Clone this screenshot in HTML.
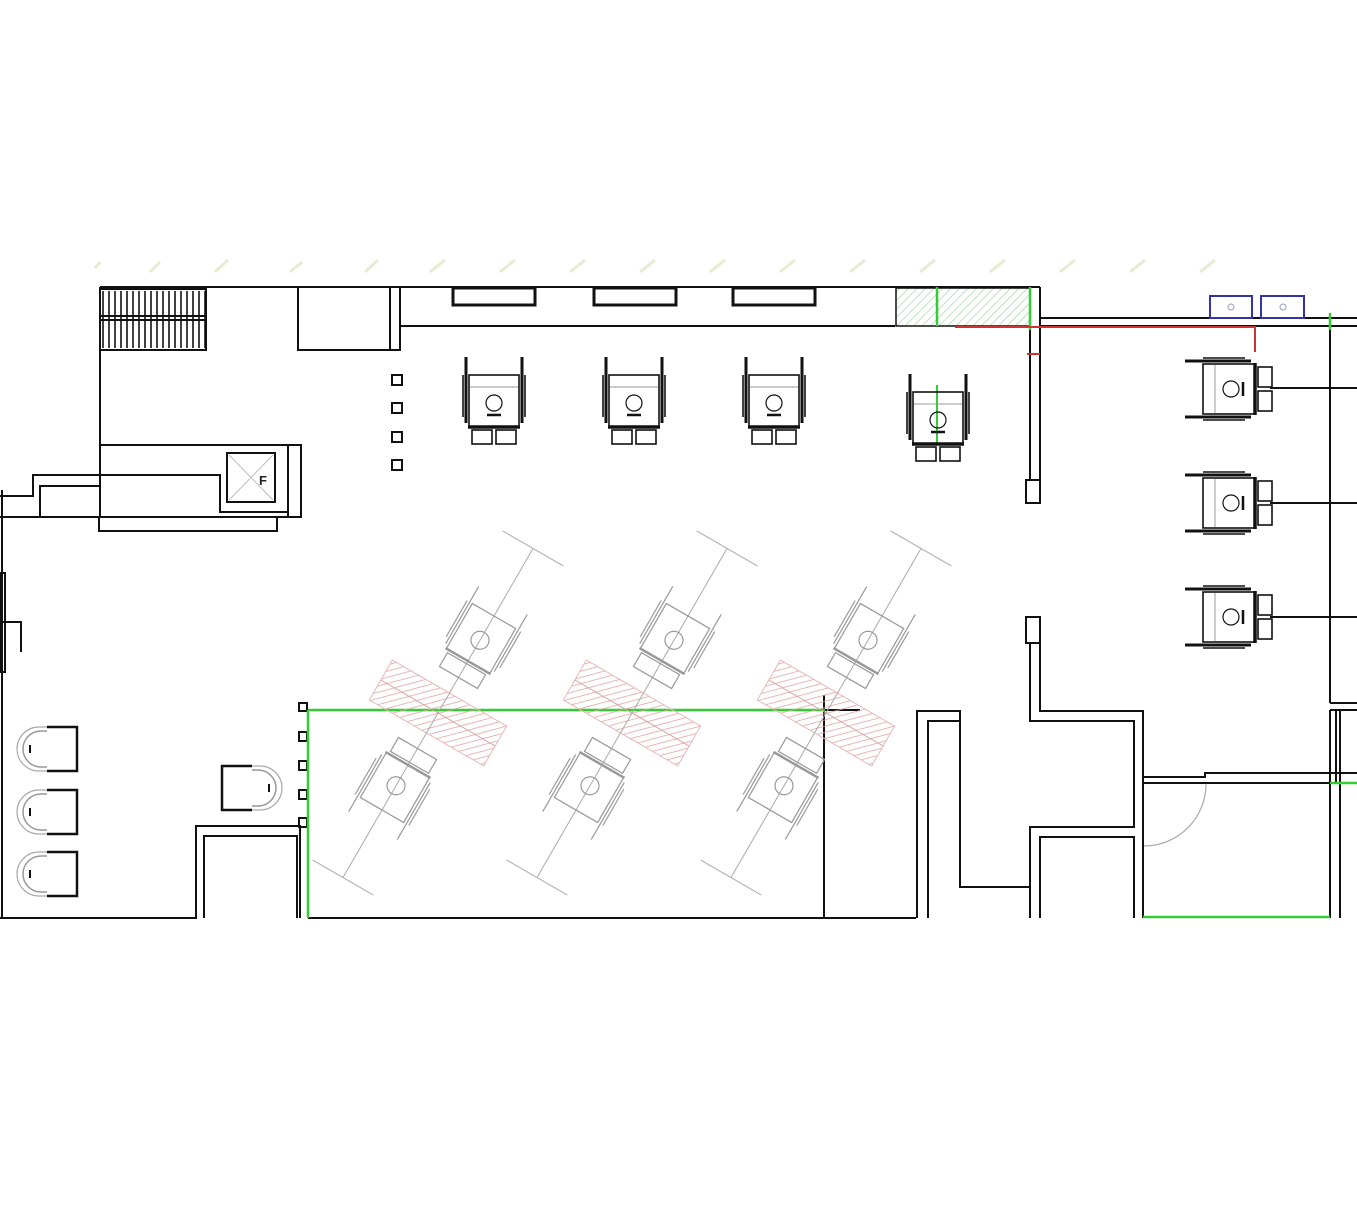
<!DOCTYPE html>
<html><head><meta charset="utf-8"><style>html,body{margin:0;padding:0;background:#fff}svg{display:block}</style></head>
<body>
<svg width="1357" height="1206" viewBox="0 0 1357 1206" xmlns="http://www.w3.org/2000/svg">
<defs>
<symbol id="ch" overflow="visible">
 <g fill="none" stroke="#111" stroke-width="1.6">
  <rect x="-25" y="-22" width="50" height="52"/>
  <line x1="-28" y1="-40" x2="-28" y2="26" stroke-width="3"/>
  <line x1="28" y1="-40" x2="28" y2="26" stroke-width="3"/>
  <line x1="-31" y1="-22" x2="-31" y2="20"/>
  <line x1="31" y1="-22" x2="31" y2="20"/>
  <line x1="-24" y1="-10" x2="24" y2="-10" stroke="#999" stroke-width="1"/>
  <rect x="-8" y="-2" width="16" height="16" rx="8" stroke-width="1.2"/>
  <line x1="-7" y1="18" x2="7" y2="18" stroke-width="2.5"/>
  <line x1="-26" y1="30" x2="26" y2="30" stroke-width="3.5"/>
  <rect x="-22" y="33" width="20" height="14"/>
  <rect x="2" y="33" width="20" height="14"/>
 </g>
</symbol>
<symbol id="chg" overflow="visible">
 <g fill="none" stroke="#999" stroke-width="1.2">
  <rect x="-25" y="-22" width="50" height="52"/>
  <line x1="-28" y1="-40" x2="-28" y2="26"/>
  <line x1="28" y1="-40" x2="28" y2="26"/>
  <line x1="-31" y1="-22" x2="-31" y2="20"/>
  <line x1="31" y1="-22" x2="31" y2="20"/>
  <circle cx="0" cy="6" r="9"/>
  <line x1="-26" y1="30" x2="26" y2="30" stroke-width="2.5"/>
  <rect x="-22" y="33" width="44" height="16"/>
 </g>
</symbol>
<symbol id="sc" overflow="visible">
 <g fill="none" stroke-width="2">
  <path d="M20 0 H50 V44 H20" stroke="#111" stroke-width="2.5"/>
  <path d="M20 4 H14 A18 18 0 0 0 14 40 H20" stroke="#999" stroke-width="1.5"/>
  <path d="M20 0 H12 A22 22 0 0 0 12 44 H20" stroke="#aaa" stroke-width="1.2"/>
  <line x1="3" y1="18" x2="3" y2="26" stroke="#111"/>
 </g>
</symbol>
<pattern id="hr" width="6" height="6" patternUnits="userSpaceOnUse" patternTransform="rotate(45)"><line x1="0" y1="0" x2="0" y2="6" stroke="#e0a0a0" stroke-width="1.5"/></pattern>
<pattern id="hg" width="6" height="6" patternUnits="userSpaceOnUse" patternTransform="rotate(45)"><line x1="0" y1="0" x2="0" y2="6" stroke="#a8d8a8" stroke-width="1.5"/></pattern>
<pattern id="gr" x="100" width="6" height="10" patternUnits="userSpaceOnUse"><line x1="3" y1="0" x2="3" y2="10" stroke="#111" stroke-width="1.6"/></pattern>
</defs>

<g stroke="#e6e6c8" stroke-width="3" opacity="0.8">
 <line x1="95" y1="268" x2="100" y2="262"/><line x1="150" y1="272" x2="160" y2="262"/><line x1="215" y1="272" x2="228" y2="260"/>
 <line x1="290" y1="272" x2="302" y2="262"/><line x1="365" y1="272" x2="378" y2="260"/><line x1="430" y1="272" x2="445" y2="260"/>
 <line x1="500" y1="272" x2="515" y2="260"/><line x1="570" y1="272" x2="585" y2="260"/><line x1="640" y1="272" x2="655" y2="260"/>
 <line x1="710" y1="272" x2="725" y2="260"/><line x1="780" y1="272" x2="795" y2="260"/><line x1="850" y1="272" x2="865" y2="260"/>
 <line x1="920" y1="272" x2="935" y2="260"/><line x1="990" y1="272" x2="1005" y2="260"/><line x1="1060" y1="272" x2="1075" y2="260"/>
 <line x1="1130" y1="272" x2="1145" y2="260"/><line x1="1200" y1="272" x2="1215" y2="260"/>
</g>

<rect x="101" y="291" width="104" height="57" fill="url(#gr)"/>
<g fill="none" stroke="#111" stroke-width="2">
 <line x1="100" y1="287" x2="1040" y2="287"/>
 <line x1="100" y1="287" x2="100" y2="447"/>
 <line x1="400" y1="326" x2="895" y2="326"/>
 <rect x="100" y="289" width="106" height="61"/>
 <line x1="100" y1="316" x2="206" y2="316"/><line x1="100" y1="320" x2="206" y2="320"/>
 <rect x="298" y="287" width="92" height="63"/>
 <rect x="390" y="287" width="10" height="63"/>
 <rect x="453" y="288" width="82" height="17" stroke-width="3"/>
 <rect x="594" y="288" width="82" height="17" stroke-width="3"/>
 <rect x="733" y="288" width="82" height="17" stroke-width="3"/>
 <rect x="392" y="375" width="10" height="10"/><rect x="392" y="403" width="10" height="10"/>
 <rect x="392" y="432" width="10" height="10"/><rect x="392" y="460" width="10" height="10"/>
 <rect x="100" y="445" width="188" height="72"/>
 <rect x="288" y="445" width="13" height="72"/>
 <path d="M100 475 H220 V512 H288"/>
 <rect x="227" y="453" width="48" height="49"/>
 <rect x="99" y="517" width="178" height="14"/>
 <path d="M0 496 H33 V475 H100"/>
 <path d="M40 517 V486 H100"/>
 <line x1="0" y1="517" x2="100" y2="517"/>
 <line x1="2" y1="490" x2="2" y2="918"/>
 <rect x="0" y="573" width="5" height="99"/>
 <path d="M2 622 H21 V652"/>
 <path d="M0 918 H196 V826 H300 V918"/>
 <path d="M204 918 V836 H297 V918"/>
 <line x1="308" y1="918" x2="916" y2="918"/>
 <line x1="824" y1="695" x2="824" y2="918"/>
 <line x1="824" y1="710" x2="860" y2="710"/>
 <rect x="299" y="703" width="8" height="8"/><rect x="299" y="732" width="8" height="9"/>
 <rect x="299" y="761" width="8" height="9"/><rect x="299" y="790" width="8" height="9"/><rect x="299" y="818" width="8" height="9"/>
 <line x1="1030" y1="287" x2="1030" y2="480"/>
 <line x1="1040" y1="287" x2="1040" y2="480"/>
 <rect x="1026" y="480" width="14" height="23"/>
 <line x1="1040" y1="318" x2="1357" y2="318"/>
 <line x1="1040" y1="326" x2="1357" y2="326"/>
 <line x1="1330" y1="318" x2="1330" y2="703"/>
 <line x1="1270" y1="388" x2="1357" y2="388"/>
 <line x1="1270" y1="503" x2="1357" y2="503"/>
 <line x1="1270" y1="617" x2="1357" y2="617"/>
 <rect x="1026" y="617" width="14" height="26"/>
 <path d="M1030 643 V721 H1134 V827 H1030 V918"/>
 <path d="M1040 643 V711 H1143 V918"/>
 <path d="M1040 918 V837 H1134 V918"/>
 <path d="M917 918 V711 H960 V887 H1030"/>
 <path d="M928 918 V721 H959"/>
 <path d="M1143 777 H1205 V773 H1357"/>
 <line x1="1143" y1="783" x2="1357" y2="783"/>
 <path d="M1330 703 H1357 M1330 710 H1357"/>
 <line x1="1330" y1="710" x2="1330" y2="918"/>
 <line x1="1340" y1="710" x2="1340" y2="918"/>
 <line x1="1336" y1="710" x2="1336" y2="783"/>
</g>
<path d="M1206 784 A62 62 0 0 1 1144 846" fill="none" stroke="#aaa" stroke-width="1.2"/>
<path d="M229 455 L273 500 M273 455 L229 500" stroke="#bbb" stroke-width="1"/>
<text x="259" y="485" font-family="Liberation Sans, sans-serif" font-size="13" font-weight="bold" fill="#222">F</text>

<rect x="896" y="288" width="134" height="38" fill="url(#hg)" stroke="#111" stroke-width="1.5"/>
<line x1="937" y1="287" x2="937" y2="326" stroke="#3c3" stroke-width="2.5"/>
<line x1="1030" y1="287" x2="1030" y2="330" stroke="#3c3" stroke-width="2.5"/>
<line x1="937" y1="385" x2="937" y2="445" stroke="#3c3" stroke-width="2"/>
<path d="M955 327 H1255 V352" fill="none" stroke="#c33" stroke-width="2"/>
<line x1="1027" y1="354" x2="1040" y2="354" stroke="#c33" stroke-width="2"/>
<g fill="none" stroke="#33a" stroke-width="2">
 <rect x="1210" y="296" width="42" height="22"/><rect x="1261" y="296" width="43" height="22"/>
 <circle cx="1231" cy="307" r="3" stroke="#99c" stroke-width="1"/><circle cx="1283" cy="307" r="3" stroke="#99c" stroke-width="1"/>
</g>
<g stroke="#3c3" stroke-width="2.5">
 <line x1="308" y1="710" x2="825" y2="710"/>
 <line x1="308" y1="710" x2="308" y2="918"/>
 <line x1="1143" y1="917" x2="1330" y2="917"/>
 <line x1="1330" y1="783" x2="1357" y2="783"/>
 <line x1="1330" y1="313" x2="1330" y2="330"/>
</g>

<use href="#ch" x="494" y="397"/>
<use href="#ch" x="634" y="397"/>
<use href="#ch" x="774" y="397"/>
<use href="#ch" x="938" y="414"/>
<use href="#ch" transform="translate(1225 389) rotate(-90)"/>
<use href="#ch" transform="translate(1225 503) rotate(-90)"/>
<use href="#ch" transform="translate(1225 617) rotate(-90)"/>

<g id="dg" transform="translate(438 713) rotate(30)">
 <rect x="-66" y="-23" width="132" height="46" fill="url(#hr)" stroke="#e8b8b8" stroke-width="1"/>
 <line x1="-66" y1="0" x2="66" y2="0" stroke="#d8a0a0" stroke-width="1"/>
 <line x1="0" y1="-190" x2="0" y2="190" stroke="#aaa" stroke-width="1"/>
 <line x1="-35" y1="-190" x2="35" y2="-190" stroke="#aaa" stroke-width="1"/>
 <line x1="-35" y1="190" x2="35" y2="190" stroke="#aaa" stroke-width="1"/>
 <use href="#chg" x="0" y="-90"/>
 <use href="#chg" transform="translate(0 90) rotate(180)"/>
</g>
<use href="#dg" transform="translate(194 0)"/>
<use href="#dg" transform="translate(388 0)"/>

<use href="#sc" x="27" y="727"/>
<use href="#sc" x="27" y="790"/>
<use href="#sc" x="27" y="852"/>
<use href="#sc" transform="translate(272 766) scale(-1 1)"/>
</svg>
</body></html>
